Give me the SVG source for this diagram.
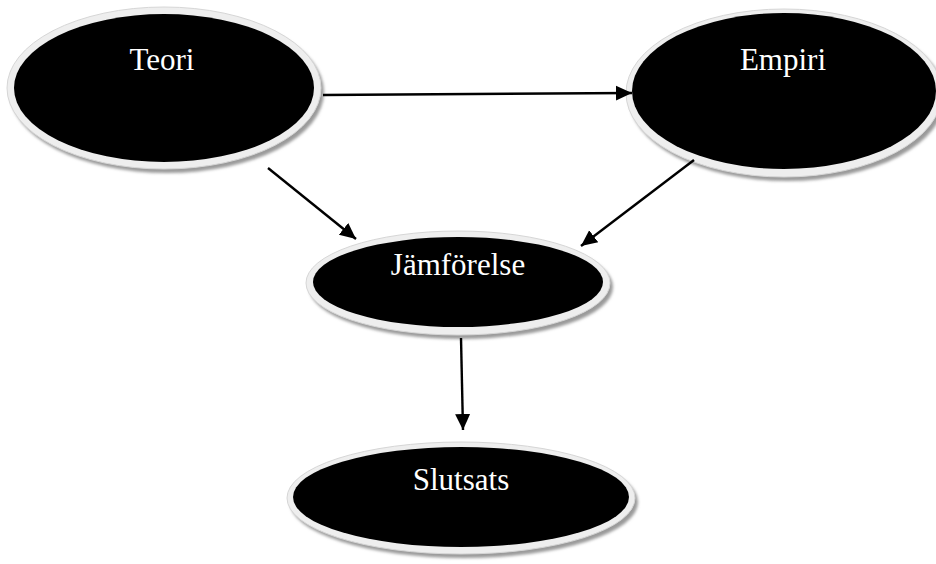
<svg xmlns="http://www.w3.org/2000/svg" width="936" height="564" viewBox="0 0 936 564">
<style>
.shadow{fill:#9a9a9a;filter:url(#blur)}
.rim{fill:#eeeeee;stroke:#d6d6d6;stroke-width:1}
.core{fill:#000}
.lbl{font-family:"Liberation Serif","Times New Roman",serif;font-size:31px;fill:#fff;text-anchor:middle}
.conn{stroke:#000;stroke-width:2.4;fill:none;marker-end:url(#ah)}
</style>
<defs>
<filter id="blur" x="-10%" y="-10%" width="120%" height="120%"><feGaussianBlur stdDeviation="1.5"/></filter>
<marker id="ah" markerUnits="userSpaceOnUse" markerWidth="18" markerHeight="18" viewBox="0 0 18 18" refX="16" refY="9" orient="auto">
<path d="M0,1.5 L16,9 L0,16.5 Z" fill="#000"/>
</marker>
</defs>
<rect width="936" height="564" fill="#fff"/>
<g id="teori">
<ellipse class="shadow" cx="167" cy="92" rx="157" ry="81"/>
<ellipse class="rim" cx="164" cy="88" rx="157" ry="81"/>
<ellipse class="core" cx="164" cy="88" rx="150" ry="74"/>
<text class="lbl" x="162" y="70">Teori</text>
</g>
<g id="empiri">
<ellipse class="shadow" cx="787" cy="97" rx="158" ry="84"/>
<ellipse class="rim" cx="784" cy="93" rx="158" ry="84"/>
<ellipse class="core" cx="784" cy="91" rx="152" ry="78"/>
<text class="lbl" x="783" y="70">Empiri</text>
</g>
<g id="jamforelse">
<ellipse class="shadow" cx="461" cy="287" rx="152" ry="52"/>
<ellipse class="rim" cx="458" cy="283" rx="152" ry="52"/>
<ellipse class="core" cx="458" cy="282" rx="145" ry="45"/>
<text class="lbl" x="458" y="275">Jämförelse</text>
</g>
<g id="slutsats">
<ellipse class="shadow" cx="464" cy="502" rx="174" ry="56"/>
<ellipse class="rim" cx="461" cy="498" rx="174" ry="56"/>
<ellipse class="core" cx="461" cy="497" rx="168" ry="50"/>
<text class="lbl" x="461" y="490">Slutsats</text>
</g>
<g id="connectors">
<line class="conn" x1="323" y1="95" x2="632" y2="93"/>
<line class="conn" x1="268" y1="168" x2="356" y2="239"/>
<line class="conn" x1="694" y1="160" x2="581" y2="246"/>
<line class="conn" x1="461" y1="338" x2="463" y2="430"/>
</g>
</svg>
